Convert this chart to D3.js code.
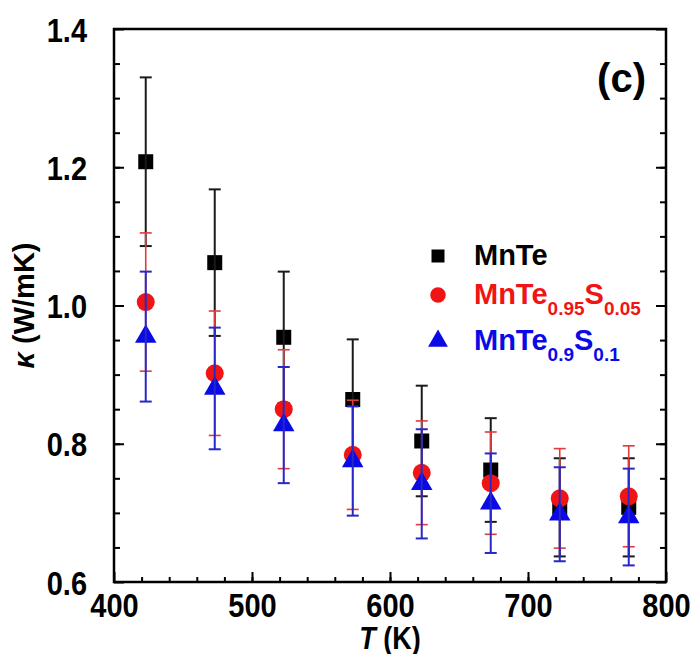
<!DOCTYPE html>
<html><head><meta charset="utf-8">
<script src="https://cdn.jsdelivr.net/npm/d3@7"></script>
<style>body{margin:0;background:#fff}svg{display:block}text{font-family:"Liberation Sans",Arial,sans-serif;font-weight:bold}</style>
</head><body><svg id="c" width="700" height="654"></svg>
<script>
const temps = [423, 473, 523, 573, 623, 673, 723, 773];
const kMnTe = [1.208, 1.062, 0.954, 0.864, 0.804, 0.762, 0.708, 0.708];
const eMnTe = [0.122, 0.106, 0.095, 0.087, 0.080, 0.075, 0.071, 0.071];
const kS05 = [1.005, 0.902, 0.850, 0.784, 0.758, 0.743, 0.721, 0.724];
const eS05 = [0.100, 0.090, 0.086, 0.079, 0.075, 0.074, 0.072, 0.073];
const kS10 = [0.955, 0.880, 0.827, 0.775, 0.742, 0.714, 0.698, 0.694];
const eS10 = [0.094, 0.088, 0.084, 0.079, 0.079, 0.072, 0.068, 0.070];
const xTicks = [400, 500, 600, 700, 800];
const yTicks = [0.6, 0.8, 1.0, 1.2, 1.4];

const series = [
  {name:"MnTe", sub:[], vals:kMnTe, errs:eMnTe, color:"#000000", bar:"#1a1a1a", shape:"square"},
  {name:"MnTe", sub:["0.95","S","0.05"], vals:kS05, errs:eS05, color:"#f01414", bar:"#e03c3c", shape:"circle"},
  {name:"MnTe", sub:["0.9","S","0.1"], vals:kS10, errs:eS10, color:"#0a0ae6", bar:"#2828c8", shape:"triangle"}
];

const svg = d3.select("#c");
const L = 114, R = 666, Tp = 29, B = 582;
const x = d3.scaleLinear().domain([400, 800]).range([L, R]);
const y = d3.scaleLinear().domain([0.6, 1.4]).range([B, Tp]);
const SY = 1.16;

function styleAxis(g){ g.select(".domain").remove(); g.selectAll("line").attr("stroke","#000").attr("stroke-width",2); }
svg.append("g").attr("transform",`translate(0,${B})`)
  .call(d3.axisBottom(x).tickValues(d3.range(420, 800, 20)).tickSize(-5).tickFormat(""))
  .call(styleAxis);
svg.append("g").attr("transform",`translate(0,${B})`)
  .call(d3.axisBottom(x).tickValues(xTicks).tickSize(-10).tickPadding(12).tickFormat(d3.format("d")))
  .call(styleAxis)
  .selectAll("text").attr("font-size",29).attr("fill","#000").attr("y",11/SY).attr("dy","0.72em").attr("transform",`scale(1,${SY})`)
  .style("font-family","Liberation Sans").style("font-weight","bold");
const yMinor = d3.range(0.65, 1.4, 0.05).map(v=>+v.toFixed(2));
svg.append("g").attr("transform",`translate(${L},0)`)
  .call(d3.axisLeft(y).tickValues(yMinor).tickSize(-6).tickFormat(""))
  .call(styleAxis);
svg.append("g").attr("transform",`translate(${L},0)`)
  .call(d3.axisLeft(y).tickValues(yTicks).tickSize(-10).tickPadding(27).tickFormat(d3.format(".1f")))
  .call(styleAxis)
  .selectAll("text").attr("font-size",29).attr("fill","#000").attr("dy","0.36em").attr("transform",`scale(1,${SY})`)
  .style("font-family","Liberation Sans").style("font-weight","bold");
svg.append("g").attr("transform",`translate(${R},0)`)
  .call(d3.axisRight(y).tickValues(yMinor).tickSize(-6).tickFormat(""))
  .call(styleAxis);
svg.append("g").attr("transform",`translate(${R},0)`)
  .call(d3.axisRight(y).tickValues(yTicks).tickSize(-10).tickFormat(""))
  .call(styleAxis);
svg.append("rect").attr("x",L).attr("y",Tp).attr("width",R-L).attr("height",B-Tp)
  .attr("fill","none").attr("stroke","#000").attr("stroke-width",2.5);

// axis titles
const xt = svg.append("text").attr("transform",`translate(${(L+R)/2},${649}) scale(1,${SY})`).attr("text-anchor","middle").attr("font-size",27);
xt.append("tspan").attr("font-style","italic").text("T");
xt.append("tspan").text(" (K)");
const yt = svg.append("text").attr("transform",`translate(34,${(Tp+B)/2}) rotate(-90)`).attr("text-anchor","middle").attr("font-size",29);
yt.append("tspan").attr("font-style","italic").text("κ");
yt.append("tspan").text(" (W/mK)");

svg.append("text").attr("x",646).attr("y",92).attr("text-anchor","end").attr("font-size",40).text("(c)");

function symbolFor(shape){
  if (shape==="square") return d3.symbol().type(d3.symbolSquare).size(225);
  if (shape==="circle") return d3.symbol().type(d3.symbolCircle).size(254);
  return d3.symbol().type(d3.symbolTriangle).size(200);
}
const cap = 6;
series.forEach(s=>{
  const g = svg.append("g");
  const pts = temps.map((t,i)=>({t, v:s.vals[i], e:s.errs[i]}));
  g.selectAll("path.m").data(pts).join("path").attr("class","m")
    .attr("d", symbolFor(s.shape)())
    .attr("transform", d=>`translate(${x(d.t)},${y(d.v)})`)
    .attr("fill", s.color);
  const eb = g.selectAll("g.eb").data(pts).join("g").attr("class","eb")
    .attr("stroke", s.bar).attr("stroke-width", s.shape==="circle"?1.6:2);
  eb.append("line").attr("x1",d=>x(d.t)).attr("x2",d=>x(d.t)).attr("y1",d=>y(d.v+d.e)).attr("y2",d=>y(d.v-d.e));
  eb.append("line").attr("x1",d=>x(d.t)-cap).attr("x2",d=>x(d.t)+cap).attr("y1",d=>y(d.v+d.e)).attr("y2",d=>y(d.v+d.e));
  eb.append("line").attr("x1",d=>x(d.t)-cap).attr("x2",d=>x(d.t)+cap).attr("y1",d=>y(d.v-d.e)).attr("y2",d=>y(d.v-d.e));
});

// legend
const legY = [265, 304, 350];
const legSizes = {square:169, circle:190, triangle:170};
series.forEach((s,i)=>{
  const sym = d3.symbol().type(s.shape==="square"?d3.symbolSquare:s.shape==="circle"?d3.symbolCircle:d3.symbolTriangle).size(legSizes[s.shape]);
  svg.append("path").attr("d", sym()).attr("transform",`translate(438,${legY[i]-9})`).attr("fill", s.color);
  const t = svg.append("text").attr("x",474).attr("y",legY[i]).attr("font-size",29).attr("fill",s.color);
  t.append("tspan").text(s.name);
  s.sub.forEach((p,j)=>{
    if (j%2===0) t.append("tspan").attr("font-size",19).attr("dy",11).text(p);
    else t.append("tspan").attr("dy",-11).text(p);
  });
});
</script></body></html>
